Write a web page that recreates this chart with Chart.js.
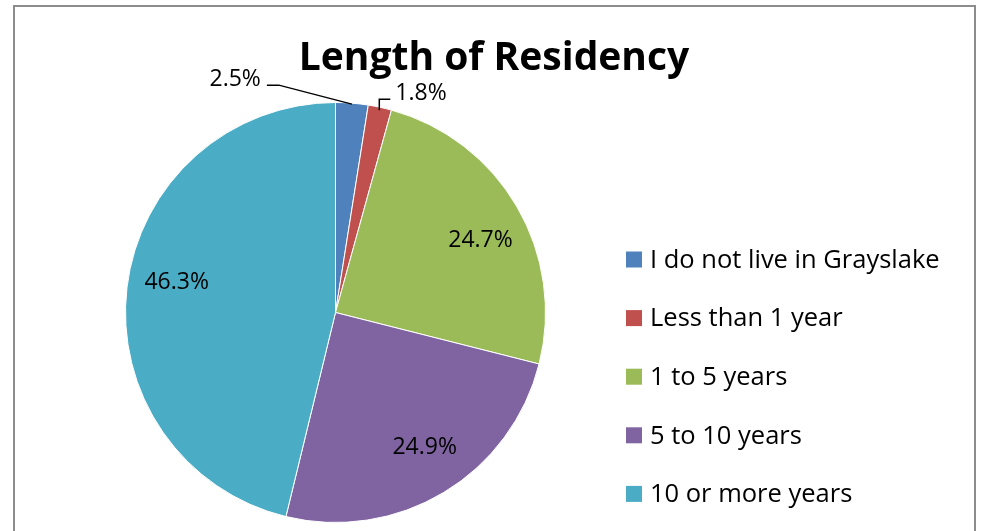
<!DOCTYPE html>
<html lang="en">
<head>
    <meta charset="UTF-8">
    <title>Length of Residency</title>
    <script src="https://cdn.jsdelivr.net/npm/chart.js"></script>
    <style>
        body {
            margin: 0;
            padding: 0;
            background-color: #fff;
        }

        .chart-container {
            width: 981px;
            height: 531px;
            position: relative;
        }
    </style>
</head>
<body>
    <div class="chart-container">
        <canvas id="residencyChart"></canvas>
    </div>

    <script>
        // Chart data
        const chartTitle = 'Length of Residency';
        const categories = ['I do not live in Grayslake', 'Less than 1 year', '1 to 5 years', '5 to 10 years', '10 or more years'];
        const percentages = [2.5, 1.8, 24.7, 24.9, 46.3];
        const sliceColors = ['#4F81BD', '#C0504D', '#9BBB59', '#8064A2', '#4BACC6'];

        const fontFamily = '"Open Sans", Calibri, sans-serif';

        // Leader lines for the thin slices (pixel offsets from the slice edge)
        const leaderStyle = {
            0: { inset: 1, elbow: [-73, -19], end: [-12, 0], align: 'right', gap: 6 },
            1: { inset: 3, elbow: [0, -11], end: [11, 0], align: 'left', gap: 5 }
        };
        // Small angle nudges (degrees) for the inside labels, like Excel's best fit
        const labelNudge = { 2: 3.9, 3: -2.4, 4: 4 };

        // Frame, title and legend drawn by hand
        const decorPlugin = {
            id: 'decor',
            beforeDraw(chart) {
                const ctx = chart.ctx;
                ctx.save();
                ctx.strokeStyle = '#8c8c8c';
                ctx.lineWidth = 2;
                ctx.strokeRect(14, 6, 961, 560);
                ctx.restore();
            },
            afterDraw(chart) {
                const ctx = chart.ctx;
                ctx.save();
                ctx.fillStyle = '#000';
                ctx.font = 'bold 39px ' + fontFamily;
                ctx.textAlign = 'center';
                ctx.textBaseline = 'alphabetic';
                ctx.fillText(chartTitle, 494, 70);

                ctx.font = '25.5px ' + fontFamily;
                ctx.textAlign = 'left';
                ctx.textBaseline = 'middle';
                categories.forEach((label, i) => {
                    const y = 259.5 + i * 58.6;
                    ctx.fillStyle = sliceColors[i];
                    ctx.fillRect(626, y - 8, 16, 16);
                    ctx.fillStyle = '#000';
                    ctx.fillText(label, 650, y + 1);
                });
                ctx.restore();
            }
        };

        // Percentage labels
        const labelPlugin = {
            id: 'sliceLabels',
            afterDatasetsDraw(chart) {
                const ctx = chart.ctx;
                const arcs = chart.getDatasetMeta(0).data;
                ctx.save();
                ctx.font = '23px ' + fontFamily;
                ctx.fillStyle = '#000';
                ctx.strokeStyle = '#000';
                ctx.lineWidth = 1.5;
                arcs.forEach((arc, i) => {
                    const { x, y, startAngle, endAngle, outerRadius } = arc.getProps(['x', 'y', 'startAngle', 'endAngle', 'outerRadius'], true);
                    const mid = (startAngle + endAngle) / 2;
                    const text = percentages[i].toFixed(1) + '%';
                    const lead = leaderStyle[i];
                    if (lead) {
                        const r = outerRadius - lead.inset;
                        const sx = x + Math.cos(mid) * r;
                        const sy = y + Math.sin(mid) * r;
                        const ex = sx + lead.elbow[0];
                        const ey = sy + lead.elbow[1];
                        const tx = ex + lead.end[0];
                        const ty = ey + lead.end[1];
                        ctx.beginPath();
                        ctx.moveTo(sx, sy);
                        ctx.lineTo(ex, ey);
                        ctx.lineTo(tx, ty);
                        ctx.stroke();
                        ctx.textAlign = lead.align;
                        ctx.textBaseline = 'alphabetic';
                        const dx = lead.align === 'right' ? -lead.gap : lead.gap;
                        ctx.fillText(text, tx + dx, ty + 1);
                    } else {
                        const a = mid + (labelNudge[i] || 0) * Math.PI / 180;
                        const r = outerRadius * 0.77;
                        ctx.textAlign = 'center';
                        ctx.textBaseline = 'middle';
                        ctx.fillText(text, x + Math.cos(a) * r, y + Math.sin(a) * r);
                    }
                });
                ctx.restore();
            }
        };

        const ctx = document.getElementById('residencyChart').getContext('2d');
        new Chart(ctx, {
            type: 'pie',
            data: {
                labels: categories,
                datasets: [{
                    data: percentages,
                    backgroundColor: sliceColors,
                    borderColor: '#fff',
                    borderWidth: 1
                }]
            },
            options: {
                responsive: true,
                maintainAspectRatio: false,
                animation: false,
                layout: {
                    padding: { left: 125, top: 102, right: 435, bottom: 8 }
                },
                plugins: {
                    legend: { display: false },
                    title: { display: false },
                    tooltip: { enabled: false }
                }
            },
            plugins: [decorPlugin, labelPlugin]
        });
    </script>
</body>
</html>
